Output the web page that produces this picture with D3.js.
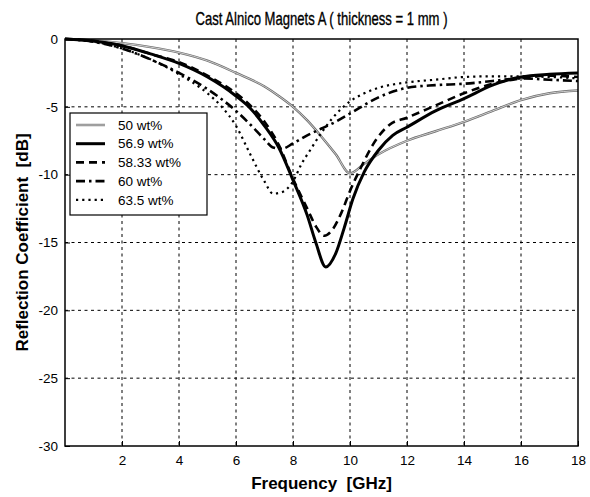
<!DOCTYPE html>
<html>
<head>
<meta charset="utf-8">
<script src="https://cdn.jsdelivr.net/npm/d3@7"></script>
<style>
  body { margin: 0; background: #fff; }
  svg { display: block; font-family: Arial, "Liberation Sans", sans-serif; }
</style>
</head>
<body>
<svg id="chart" width="590" height="497"></svg>
<script>
// Reflection coefficient (dB) vs frequency (GHz) for five Alnico loadings
const xTicks = [2, 4, 6, 8, 10, 12, 14, 16, 18];
const yTicks = [0, -5, -10, -15, -20, -25, -30];

const labels = ["50 wt%", "56.9 wt%", "58.33 wt%", "60 wt%", "63.5 wt%"];

const freq50 = [0, 1, 2, 3, 4, 5, 6, 7, 7.5, 8, 8.5, 9, 9.5, 10, 10.5, 11, 12, 13, 14, 15, 16, 17, 18];
const db50   = [0, -0.1, -0.3, -0.6, -1.0, -1.6, -2.5, -3.5, -4.2, -5.0, -6.0, -7.2, -8.5, -9.9, -9.2, -8.5, -7.5, -6.8, -6.1, -5.3, -4.5, -4.0, -3.8];

const freq569 = [0, 1, 2, 3, 4, 5, 6, 6.5, 7, 7.5, 8, 8.5, 8.8, 9.15, 9.5, 9.8, 10.1, 10.5, 11, 11.5, 12, 13, 14, 15, 16, 17, 18];
const db569   = [0, -0.15, -0.5, -1.1, -1.8, -2.8, -4.2, -5.1, -6.4, -8.0, -10.4, -13.0, -15.0, -16.8, -15.8, -13.9, -11.8, -9.8, -8.2, -7.1, -6.5, -5.3, -4.4, -3.4, -2.8, -2.6, -2.5];

const freq5833 = [0, 1, 2, 3, 4, 5, 6, 6.5, 7, 7.5, 8, 8.5, 8.8, 9.1, 9.4, 9.7, 10, 10.4, 10.8, 11.4, 12, 13, 14, 15, 16, 17, 18];
const db5833   = [0, -0.15, -0.5, -1.1, -1.7, -2.7, -4.0, -4.9, -6.1, -7.8, -10.3, -12.5, -13.8, -14.5, -14.0, -12.8, -11.2, -9.4, -7.8, -6.3, -5.8, -4.9, -4.0, -3.3, -2.9, -2.7, -2.8];

const freq60 = [0, 1, 2, 3, 4, 5, 6, 6.5, 7, 7.3, 7.6, 8, 8.5, 9, 9.5, 10, 11, 12, 13, 14, 15, 16, 17, 18];
const db60   = [0, -0.2, -0.7, -1.5, -2.5, -3.7, -5.3, -6.3, -7.4, -8.0, -8.1, -7.7, -7.1, -6.6, -6.1, -5.5, -4.3, -3.6, -3.4, -3.3, -3.1, -2.9, -3.0, -3.1];

const freq635 = [0, 1, 2, 3, 4, 5, 5.5, 6, 6.5, 7, 7.3, 7.6, 8, 8.3, 8.6, 9, 9.4, 10, 10.5, 11, 12, 13, 14, 15, 16, 17, 18];
const db635   = [0, -0.2, -0.7, -1.5, -2.6, -4.0, -5.0, -6.4, -8.5, -10.5, -11.4, -11.3, -10.5, -9.2, -8.2, -6.9, -5.8, -4.6, -4.0, -3.6, -3.2, -3.0, -2.8, -2.75, -2.75, -2.8, -2.9];

// stroke styles; the 50 wt% trace is a light core inside a darker edge
const series = [
  { name: labels[0], f: freq50,   v: db50,   color: "#6e6e6e", width: 2.4, dash: null, core: "#cfcfcf" },
  { name: labels[1], f: freq569,  v: db569,  color: "#000",    width: 3,   dash: null },
  { name: labels[2], f: freq5833, v: db5833, color: "#000",    width: 2.6, dash: "8,5" },
  { name: labels[3], f: freq60,   v: db60,   color: "#000",    width: 2.6, dash: "9,4,2.5,4" },
  { name: labels[4], f: freq635,  v: db635,  color: "#000",    width: 2.2, dash: "2.2,4" }
];

const svg = d3.select("#chart");
const plotL = 65, plotR = 578, plotT = 39, plotB = 446;

const x = d3.scaleLinear().domain([0, 18]).range([plotL, plotR]);
const y = d3.scaleLinear().domain([-30, 0]).range([plotB, plotT]);

// grid
const grid = svg.append("g");
grid.selectAll("line.vx").data(xTicks.filter(t => t < 18)).join("line")
  .attr("x1", d => x(d)).attr("x2", d => x(d))
  .attr("y1", plotT).attr("y2", plotB)
  .attr("stroke", "#000").attr("stroke-width", 1).attr("stroke-dasharray", "3,3.5");
grid.selectAll("line.hy").data(yTicks.filter(t => t > -30 && t < 0)).join("line")
  .attr("x1", plotL).attr("x2", plotR)
  .attr("y1", d => y(d)).attr("y2", d => y(d))
  .attr("stroke", "#000").attr("stroke-width", 1).attr("stroke-dasharray", "3,3.5");

// axes
const fmt = d => String(d);
const xAxis = d3.axisBottom(x).tickValues(xTicks).tickSize(-5).tickPadding(9).tickFormat(fmt);
const yAxis = d3.axisLeft(y).tickValues(yTicks).tickSize(-5).tickPadding(7).tickFormat(fmt);

const gx = svg.append("g").attr("transform", `translate(0,${plotB})`).call(xAxis);
const gy = svg.append("g").attr("transform", `translate(${plotL},0)`).call(yAxis);
[gx, gy].forEach(g => {
  g.select(".domain").remove();
  g.selectAll("text").attr("font-size", 13.5).attr("fill", "#000")
    .attr("font-family", "Arial, 'Liberation Sans', sans-serif");
  g.selectAll("line").attr("stroke", "#000");
});

// curves
const line = d3.line().curve(d3.curveMonotoneX);
const curves = svg.append("g");
series.forEach(s => {
  const d = line(s.f.map((f, i) => [x(f), y(s.v[i])]));
  curves.append("path")
    .attr("d", d)
    .attr("fill", "none")
    .attr("stroke", s.color)
    .attr("stroke-width", s.width)
    .attr("stroke-dasharray", s.dash)
    .attr("stroke-linejoin", "round");
  if (s.core) {
    curves.append("path")
      .attr("d", d)
      .attr("fill", "none")
      .attr("stroke", s.core)
      .attr("stroke-width", 1);
  }
});

// frame
svg.append("rect")
  .attr("x", plotL).attr("y", plotT)
  .attr("width", plotR - plotL).attr("height", plotB - plotT)
  .attr("fill", "none").attr("stroke", "#000").attr("stroke-width", 1.5);

// legend
const lg = svg.append("g");
const lx = 70, ly = 113, lw = 137, lh = 102, rowH = 18.7;
lg.append("rect").attr("x", lx).attr("y", ly).attr("width", lw).attr("height", lh)
  .attr("fill", "#fff").attr("stroke", "#000").attr("stroke-width", 1.2);
series.forEach((s, i) => {
  const ry = ly + 12 + i * rowH;
  lg.append("line")
    .attr("x1", lx + 6).attr("x2", lx + 35)
    .attr("y1", ry).attr("y2", ry)
    .attr("stroke", s.color).attr("stroke-width", s.width)
    .attr("stroke-dasharray", s.dash);
  if (s.core) {
    lg.append("line")
      .attr("x1", lx + 6).attr("x2", lx + 35)
      .attr("y1", ry).attr("y2", ry)
      .attr("stroke", s.core).attr("stroke-width", 1);
  }
  lg.append("text")
    .attr("x", lx + 48).attr("y", ry)
    .attr("dy", "0.35em")
    .attr("font-size", 13.5)
    .text(s.name);
});

// titles
svg.append("text")
  .attr("x", (plotL + plotR) / 2).attr("y", 25)
  .attr("text-anchor", "middle")
  .attr("font-size", 18.5)
  .attr("stroke", "#000").attr("stroke-width", 0.35)
  .attr("textLength", 252).attr("lengthAdjust", "spacingAndGlyphs")
  .text("Cast Alnico Magnets A ( thickness = 1 mm )");

svg.append("text")
  .attr("x", (plotL + plotR) / 2).attr("y", 489)
  .attr("text-anchor", "middle")
  .attr("font-size", 17).attr("font-weight", "bold")
  .attr("xml:space", "preserve")
  .text("Frequency  [GHz]");

svg.append("text")
  .attr("transform", `translate(22,${(plotT + plotB) / 2}) rotate(-90)`)
  .attr("text-anchor", "middle")
  .attr("dy", "0.35em")
  .attr("font-size", 17).attr("font-weight", "bold")
  .attr("xml:space", "preserve")
  .text("Reflection Coefficient  [dB]");
</script>
</body>
</html>
